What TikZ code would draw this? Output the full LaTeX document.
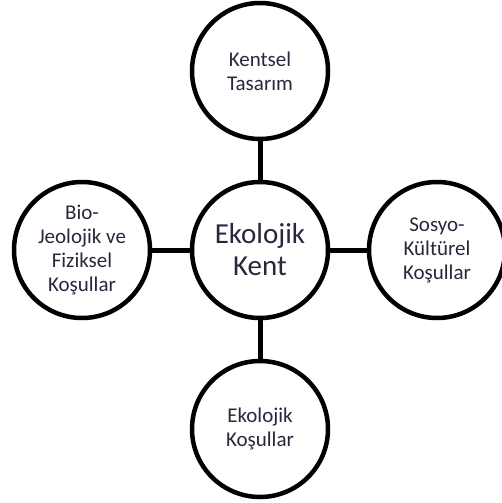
\documentclass[tikz,border=0pt]{standalone}
\usepackage{fontspec}
\setmainfont{Carlito}
\definecolor{txt}{RGB}{38,40,60}
\begin{document}
\begin{tikzpicture}[x=1pt,y=-1pt,
  circ/.style={circle,draw=black,line width=4.5pt,minimum size=136pt,inner sep=0pt,align=center,text=txt,font=\fontsize{21}{24}\selectfont},
  big/.style={font=\fontsize{29}{32}\selectfont},
  conn/.style={line width=5pt,draw=black}]
\useasboundingbox (0,0) rectangle (501,503);
\node[circ,big] (c) at (260,250) {Ekolojik\\Kent};
\node[circ] (t) at (260,71) {Kentsel\\Tasarım};
\node[circ] (l) at (82,250) {Bio-\\Jeolojik ve\\Fiziksel\\Koşullar};
\node[circ] (r) at (437,250) {Sosyo-\\Kültürel\\Koşullar};
\node[circ] (b) at (260,429) {Ekolojik\\Koşullar};
\draw[conn] (c) -- (t);
\draw[conn] (c) -- (l);
\draw[conn] (c) -- (r);
\draw[conn] (c) -- (b);
\end{tikzpicture}
\end{document}
